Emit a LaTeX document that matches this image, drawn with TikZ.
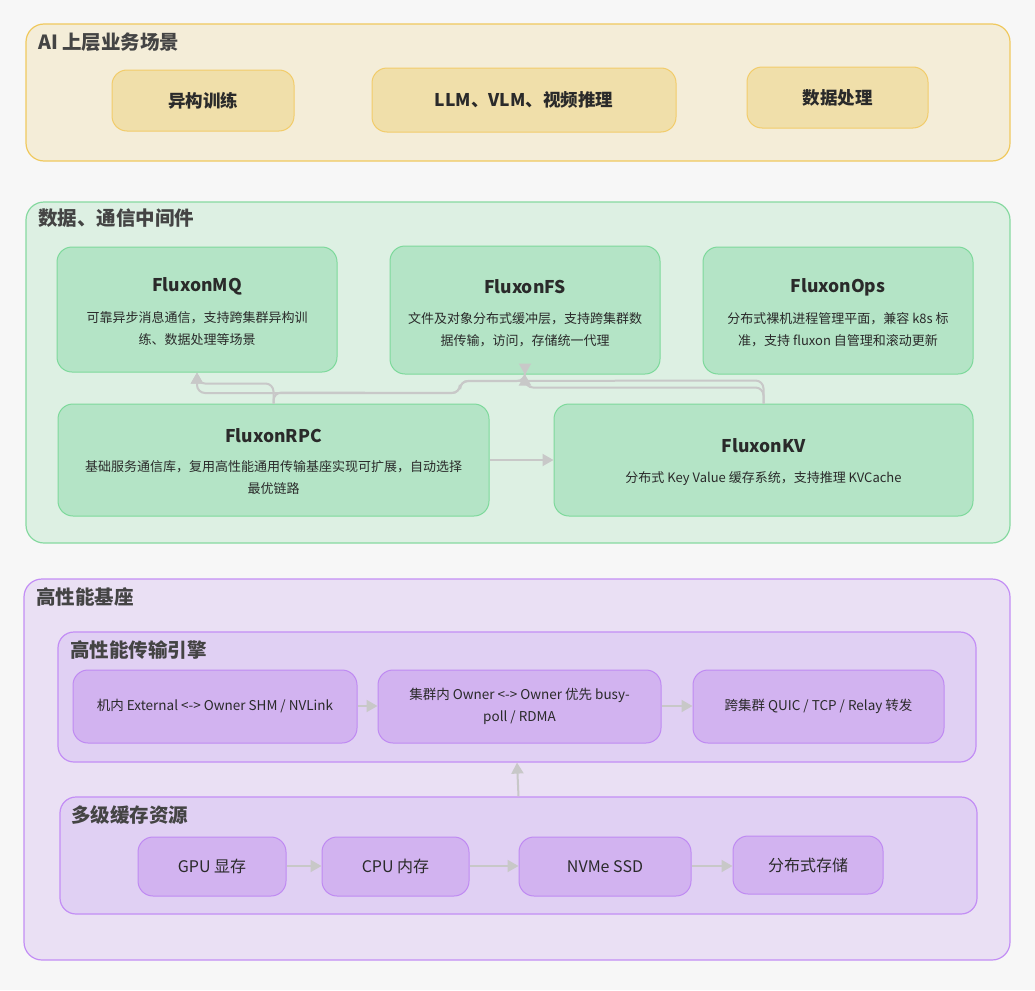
\documentclass[tikz,border=0pt]{standalone}
\usepackage{fontspec}
\setmainfont{Noto Sans CJK SC}
\usetikzlibrary{arrows.meta}
\definecolor{bg}{HTML}{F7F7F7}
\definecolor{ysecfill}{HTML}{F4EDD8}
\definecolor{ysecline}{HTML}{F0C95E}
\definecolor{ynodefill}{HTML}{F0DFAA}
\definecolor{ynodeline}{HTML}{F2CC6A}
\definecolor{gsecfill}{HTML}{DDF0E3}
\definecolor{gsecline}{HTML}{86D9A0}
\definecolor{gnodefill}{HTML}{B4E4C6}
\definecolor{gnodeline}{HTML}{7DD99B}
\definecolor{psecfill}{HTML}{EAE0F4}
\definecolor{psubfill}{HTML}{E0D0F3}
\definecolor{pline}{HTML}{C38EF5}
\definecolor{pnodefill}{HTML}{D2B3F0}
\definecolor{pnodeline}{HTML}{BF8AF2}
\definecolor{arrowc}{HTML}{C8C8C8}
\definecolor{titlec}{HTML}{444444}
\definecolor{textc}{HTML}{2A2A2A}
\tikzset{
  x=1pt, y=-1pt,
  box/.style={rectangle, inner sep=0pt},
  ysec/.style={box, draw=ysecline, fill=ysecfill, line width=1.2pt, rounded corners=18pt},
  gsec/.style={box, draw=gsecline, fill=gsecfill, line width=1.2pt, rounded corners=18pt},
  psec/.style={box, draw=pline, fill=psecfill, line width=1.2pt, rounded corners=18pt},
  psub/.style={box, draw=pline, fill=psubfill, line width=1.2pt, rounded corners=16pt},
  ynode/.style={box, draw=ynodeline, fill=ynodefill, line width=1pt, rounded corners=15pt},
  gnode/.style={box, draw=gnodeline, fill=gnodefill, line width=1pt, rounded corners=15pt},
  pnode/.style={box, draw=pnodeline, fill=pnodefill, line width=1pt, rounded corners=15pt},
  sectitle/.style={anchor=west, inner sep=0pt, text=titlec, font=\fontsize{19.5}{22}\selectfont\bfseries},
  ntitle/.style={inner sep=0pt, text=textc, font=\fontsize{17.5}{20}\selectfont\bfseries},
  desc/.style={inner sep=0pt, text=textc, align=center, font=\fontsize{13}{22}\selectfont},
  ptext/.style={inner sep=0pt, text=textc, align=center, font=\fontsize{13.5}{22}\selectfont},
  ctext/.style={inner sep=0pt, text=textc, font=\fontsize{16}{20}\selectfont},
  conn/.style={draw=arrowc, line width=2pt, rounded corners=8pt, -{Triangle[length=11pt,width=12pt]}},
}
\newcommand{\boxat}[6]{\node[#1, minimum width=#4-#3, minimum height=#6-#5] (#2) at ({(#3+#4)/2},{(#5+#6)/2}) {};}
\begin{document}
\begin{tikzpicture}
\fill[bg] (0,0) rectangle (1035,990);
\useasboundingbox (0,0) rectangle (1035,990);

% ===== Section 1 =====
\boxat{ysec}{secA}{26}{1010}{24}{161}
\node[sectitle] (secAt) at (38,42) {AI 上层业务场景};
\boxat{ynode}{a1}{112}{294}{70}{131}
\boxat{ynode}{a2}{372}{676}{68}{132}
\boxat{ynode}{a3}{747}{928}{67}{128}
\node[ntitle] (a1t) at (a1) {异构训练};
\node[ntitle] (a2t) at (a2) {LLM、VLM、视频推理};
\node[ntitle] (a3t) at (a3) {数据处理};

% ===== Section 2 =====
\boxat{gsec}{secB}{26}{1010}{202}{543}
\node[sectitle] (secBt) at (38,218) {数据、通信中间件};
\boxat{gnode}{mq}{57}{337}{247}{372}
\boxat{gnode}{fs}{390}{660}{246}{374}
\boxat{gnode}{ops}{703}{973}{247}{374}
\boxat{gnode}{rpc}{58}{489}{404}{516}
\boxat{gnode}{kv}{554}{973}{404}{516}

\node[ntitle] (mqt) at (197,286) {FluxonMQ};
\node[desc] (mqd) at (197,329) {可靠异步消息通信，支持跨集群异构训\\练、数据处理等场景};
\node[ntitle] (fst) at (525,287) {FluxonFS};
\node[desc] (fsd) at (525,330) {文件及对象分布式缓冲层，支持跨集群数\\据传输，访问，存储统一代理};
\node[ntitle] (opst) at (838,287) {FluxonOps};
\node[desc] (opsd) at (838,330) {分布式裸机进程管理平面，兼容 k8s 标\\准，支持 fluxon 自管理和滚动更新};
\node[ntitle] (rpct) at (273.5,436) {FluxonRPC};
\node[desc] (rpcd) at (273.5,478) {基础服务通信库，复用高性能通用传输基座实现可扩展，自动选择\\最优链路};
\node[ntitle] (kvt) at (763.5,446) {FluxonKV};
\node[desc] (kvd) at (763.5,479) {分布式 Key Value 缓存系统，支持推理 KVCache};

\coordinate (j1) at (460,393);
\coordinate (j2) at (460,381);
\draw[conn] (rpc.north) -- ++(0,-20) -| (mq.south);
\draw[conn] (kv.north) -- ++(0,-16) -| (fs.south);
\draw[conn] (rpc.north) -- ++(0,-11) -- (j1) -- (j2) -| (fs.south);
\draw[conn] (kv.north) -- ++(0,-23) -- (j2) -- (j1) -| (mq.south);
\draw[conn, rounded corners=0pt] (rpc.east |- 0,460) -- (kv.west |- 0,460);

% ===== Section 3 =====
\boxat{psec}{secC}{24}{1010}{579}{960}
\node[sectitle] (secCt) at (36,597) {高性能基座};
\boxat{psub}{eng}{58}{976}{632}{762}
\node[sectitle] (engt) at (70,650) {高性能传输引擎};
\boxat{pnode}{e1}{73}{357}{670}{743}
\boxat{pnode}{e2}{378}{661}{670}{743}
\boxat{pnode}{e3}{693}{944}{670}{743}
\node[ptext] (e1t) at (e1) {机内 External <-> Owner SHM / NVLink};
\node[ptext] (e2t) at (e2) {集群内 Owner <-> Owner 优先 busy-\\poll / RDMA};
\node[ptext] (e3t) at (e3) {跨集群 QUIC / TCP / Relay 转发};
\draw[conn, rounded corners=0pt] (e1.east |- 0,706) -- (e2.west |- 0,706);
\draw[conn, rounded corners=0pt] (e2.east |- 0,706) -- (e3.west |- 0,706);

\boxat{psub}{cache}{60}{977}{797}{914}
\node[sectitle] (cachet) at (71,815) {多级缓存资源};
\boxat{pnode}{c1}{138}{286}{837}{896}
\boxat{pnode}{c2}{322}{469}{837}{896}
\boxat{pnode}{c3}{519}{691}{837}{896}
\boxat{pnode}{c4}{733}{883}{836}{894}
\node[ctext] (c1t) at (c1) {GPU 显存};
\node[ctext] (c2t) at (c2) {CPU 内存};
\node[ctext] (c3t) at (c3) {NVMe SSD};
\node[ctext] (c4t) at (c4) {分布式存储};
\draw[conn, rounded corners=0pt] (c1.east |- 0,866) -- (c2.west |- 0,866);
\draw[conn, rounded corners=0pt] (c2.east |- 0,866) -- (c3.west |- 0,866);
\draw[conn, rounded corners=0pt] (c3.east |- 0,866) -- (c4.west |- 0,866);

\draw[conn, rounded corners=0pt] (cache.north) -- (eng.south);
\end{tikzpicture}
\end{document}
